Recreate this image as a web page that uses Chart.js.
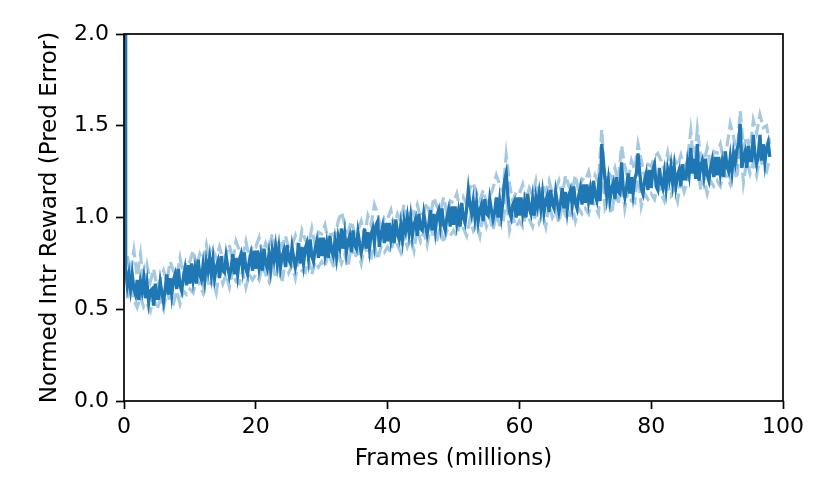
<!DOCTYPE html>
<html>
<head>
<meta charset="utf-8">
<script src="https://cdn.jsdelivr.net/npm/chart.js@4.4.1/dist/chart.umd.min.js"></script>
<style>
  html, body { margin: 0; padding: 0; background: #fff; }
  #wrap { width: 830px; height: 498px; }
</style>
</head>
<body>
<div id="wrap"><canvas id="chart" width="830" height="498"></canvas></div>
<script>
// mean curve, one point every 0.25 million frames (0.25 .. 98)
const meanReward = [
  0.72, 0.63, 0.69, 0.61, 0.69, 0.61, 0.58, 0.66,
  0.55, 0.65, 0.60, 0.67, 0.56, 0.64, 0.54, 0.60,
  0.61, 0.52, 0.64, 0.56, 0.56, 0.65, 0.59, 0.54,
  0.61, 0.69, 0.58, 0.67, 0.58, 0.66, 0.69, 0.61,
  0.72, 0.63, 0.60, 0.67, 0.72, 0.63, 0.74, 0.64,
  0.75, 0.66, 0.72, 0.64, 0.77, 0.69, 0.66, 0.74,
  0.66, 0.76, 0.71, 0.78, 0.69, 0.77, 0.67, 0.73,
  0.76, 0.67, 0.79, 0.71, 0.70, 0.79, 0.73, 0.68,
  0.72, 0.80, 0.69, 0.78, 0.69, 0.77, 0.80, 0.72,
  0.81, 0.72, 0.69, 0.76, 0.80, 0.71, 0.82, 0.72,
  0.82, 0.73, 0.79, 0.71, 0.83, 0.75, 0.72, 0.80,
  0.72, 0.82, 0.77, 0.84, 0.75, 0.83, 0.73, 0.79,
  0.82, 0.73, 0.85, 0.77, 0.75, 0.84, 0.78, 0.73,
  0.78, 0.86, 0.75, 0.84, 0.75, 0.83, 0.86, 0.78,
  0.88, 0.79, 0.76, 0.83, 0.87, 0.78, 0.89, 0.79,
  0.89, 0.80, 0.86, 0.78, 0.90, 0.82, 0.79, 0.87,
  0.79, 0.89, 0.84, 0.94, 0.83, 0.91, 0.81, 0.87,
  0.90, 0.81, 0.93, 0.85, 0.83, 0.92, 0.86, 0.81,
  0.86, 0.94, 0.83, 0.92, 0.83, 0.91, 0.94, 0.86,
  0.96, 0.98, 0.84, 0.91, 0.95, 0.86, 0.97, 0.87,
  0.97, 0.88, 0.94, 0.86, 0.99, 0.91, 0.88, 0.96,
  0.88, 0.98, 0.93, 1.00, 0.92, 1.00, 0.90, 0.96,
  0.99, 0.90, 1.02, 0.94, 0.93, 1.02, 0.96, 0.91,
  0.96, 1.04, 0.93, 1.02, 0.93, 1.01, 1.04, 0.96,
  1.05, 0.96, 0.93, 1.00, 1.04, 0.95, 1.06, 0.96,
  1.06, 0.97, 1.03, 0.95, 1.08, 1.00, 0.97, 1.05,
  1.15, 1.07, 1.02, 1.09, 1.00, 1.08, 0.98, 1.04,
  1.07, 0.98, 1.10, 1.02, 1.01, 1.10, 1.04, 0.99,
  1.03, 1.11, 1.00, 1.09, 1.01, 1.09, 1.20, 1.24,
  1.12, 1.03, 1.00, 1.07, 1.09, 1.00, 1.11, 1.01,
  1.11, 1.02, 1.08, 1.00, 1.13, 1.05, 1.02, 1.10,
  1.01, 1.11, 1.06, 1.13, 1.05, 1.13, 1.03, 1.09,
  1.12, 1.03, 1.15, 1.07, 1.05, 1.14, 1.08, 1.03,
  1.08, 1.16, 1.05, 1.14, 1.04, 1.12, 1.15, 1.07,
  1.17, 1.08, 1.05, 1.12, 1.16, 1.07, 1.18, 1.08,
  1.18, 1.09, 1.15, 1.07, 1.20, 1.12, 1.09, 1.17,
  1.09, 1.40, 1.30, 1.21, 1.12, 1.20, 1.10, 1.16,
  1.19, 1.10, 1.22, 1.14, 1.13, 1.30, 1.16, 1.11,
  1.16, 1.24, 1.13, 1.22, 1.13, 1.21, 1.24, 1.35,
  1.25, 1.16, 1.13, 1.20, 1.24, 1.15, 1.26, 1.16,
  1.26, 1.29, 1.17, 1.15, 1.27, 1.19, 1.16, 1.24,
  1.16, 1.26, 1.21, 1.28, 1.19, 1.27, 1.17, 1.23,
  1.26, 1.17, 1.29, 1.21, 1.21, 1.30, 1.24, 1.38,
  1.24, 1.32, 1.21, 1.40, 1.20, 1.28, 1.31, 1.23,
  1.32, 1.23, 1.20, 1.27, 1.31, 1.22, 1.33, 1.23,
  1.33, 1.24, 1.30, 1.22, 1.36, 1.28, 1.25, 1.33,
  1.25, 1.35, 1.30, 1.37, 1.40, 1.51, 1.27, 1.33,
  1.36, 1.27, 1.39, 1.31, 1.31, 1.45, 1.34, 1.29,
  1.34, 1.45, 1.31, 1.40, 1.30, 1.38, 1.41, 1.33
];
// two individual runs, one point every 0.5 million frames (0.5 .. 98)
const runHigh = [
  0.79, 0.70, 0.82, 0.68, 0.80, 0.63, 0.74, 0.65, 0.72, 0.62,
  0.66, 0.71, 0.65, 0.76, 0.71, 0.68, 0.78, 0.69, 0.77, 0.76,
  0.82, 0.73, 0.80, 0.76, 0.85, 0.74, 0.82, 0.78, 0.84, 0.77,
  0.80, 0.85, 0.76, 0.87, 0.82, 0.79, 0.87, 0.78, 0.85, 0.84,
  0.89, 0.80, 0.86, 0.82, 0.91, 0.80, 0.88, 0.84, 0.90, 0.83,
  0.85, 0.90, 0.82, 0.93, 0.88, 0.85, 0.94, 0.85, 0.92, 0.91,
  0.96, 0.87, 0.93, 0.89, 0.98, 1.03, 0.96, 0.92, 0.98, 0.91,
  0.93, 0.98, 0.90, 1.01, 0.96, 1.07, 1.02, 0.93, 1.00, 0.99,
  1.04, 0.95, 1.02, 0.98, 1.07, 0.96, 1.05, 1.01, 1.07, 1.00,
  1.03, 1.08, 1.00, 1.11, 1.06, 1.03, 1.11, 1.02, 1.09, 1.08,
  1.13, 1.04, 1.11, 1.07, 1.16, 1.19, 1.13, 1.09, 1.15, 1.08,
  1.11, 1.16, 1.23, 1.18, 1.14, 1.34, 1.18, 1.09, 1.14, 1.13,
  1.18, 1.09, 1.16, 1.12, 1.20, 1.09, 1.18, 1.14, 1.20, 1.13,
  1.15, 1.20, 1.12, 1.23, 1.17, 1.14, 1.23, 1.14, 1.21, 1.20,
  1.25, 1.16, 1.23, 1.19, 1.48, 1.17, 1.25, 1.21, 1.27, 1.20,
  1.39, 1.28, 1.20, 1.31, 1.26, 1.40, 1.31, 1.22, 1.29, 1.28,
  1.33, 1.35, 1.31, 1.26, 1.35, 1.24, 1.32, 1.28, 1.34, 1.27,
  1.31, 1.47, 1.28, 1.48, 1.33, 1.30, 1.38, 1.29, 1.36, 1.35,
  1.40, 1.31, 1.39, 1.51, 1.44, 1.33, 1.58, 1.38, 1.44, 1.37,
  1.53, 1.46, 1.56, 1.49, 1.50, 1.40
];
const runLow = [
  0.56, 0.64, 0.55, 0.51, 0.57, 0.51, 0.53, 0.49, 0.56, 0.50,
  0.55, 0.50, 0.60, 0.54, 0.53, 0.60, 0.53, 0.60, 0.58, 0.61,
  0.59, 0.67, 0.63, 0.59, 0.68, 0.62, 0.66, 0.59, 0.71, 0.64,
  0.69, 0.62, 0.71, 0.65, 0.64, 0.71, 0.62, 0.69, 0.66, 0.69,
  0.66, 0.74, 0.69, 0.65, 0.74, 0.68, 0.72, 0.65, 0.77, 0.70,
  0.74, 0.67, 0.77, 0.71, 0.70, 0.77, 0.69, 0.76, 0.73, 0.76,
  0.73, 0.81, 0.76, 0.72, 0.81, 0.75, 0.80, 0.73, 0.85, 0.78,
  0.82, 0.75, 0.85, 0.79, 0.78, 0.85, 0.77, 0.84, 0.81, 0.84,
  0.81, 0.89, 0.85, 0.81, 0.90, 0.84, 0.89, 0.82, 0.94, 0.87,
  0.92, 0.85, 0.95, 0.89, 0.88, 0.95, 0.86, 0.93, 0.90, 0.93,
  0.90, 0.98, 0.94, 0.90, 0.99, 0.93, 0.97, 0.90, 1.02, 0.95,
  1.00, 0.93, 1.02, 0.96, 0.96, 1.12, 0.93, 1.00, 0.95, 0.98,
  0.95, 1.03, 0.99, 0.95, 1.03, 0.97, 1.02, 0.95, 1.07, 1.00,
  1.04, 0.97, 1.07, 1.01, 0.99, 1.06, 0.98, 1.05, 1.02, 1.05,
  1.02, 1.10, 1.06, 1.02, 1.28, 1.05, 1.09, 1.02, 1.14, 1.07,
  1.22, 1.05, 1.15, 1.09, 1.08, 1.26, 1.06, 1.13, 1.10, 1.13,
  1.10, 1.18, 1.13, 1.09, 1.18, 1.12, 1.16, 1.09, 1.21, 1.14,
  1.20, 1.30, 1.23, 1.32, 1.15, 1.22, 1.13, 1.20, 1.17, 1.20,
  1.17, 1.25, 1.22, 1.18, 1.27, 1.21, 1.42, 1.19, 1.31, 1.24,
  1.30, 1.23, 1.33, 1.27, 1.25, 1.32
];
// very first logged point sits far above the top of the axis
const startFrame = 0.2;
const startReward = 3.4;

const meanFrames = meanReward.map((v, i) => 0.25 * (i + 1));
const runFrames = runHigh.map((v, i) => 0.5 * (i + 1));
const xTicks = [0, 20, 40, 60, 80, 100];
const yTicks = [0.0, 0.5, 1.0, 1.5, 2.0];

const blue = '#1f77b4';
const fontFamily = "'DejaVu Sans', sans-serif";

function toPoints(xs, values) {
  return values.map((v, i) => ({ x: xs[i], y: v }));
}

// matplotlib-like box around the plot area
const frameBox = {
  id: 'frameBox',
  afterDatasetsDraw(chart) {
    const { ctx, chartArea: a } = chart;
    ctx.save();
    ctx.strokeStyle = '#000';
    ctx.lineWidth = 1.7;
    ctx.strokeRect(a.left, a.top, a.right - a.left, a.bottom - a.top);
    ctx.restore();
  }
};

const ctx = document.getElementById('chart').getContext('2d');
new Chart(ctx, {
  type: 'line',
  data: {
    datasets: [
      {
        data: toPoints(runFrames, runHigh),
        borderColor: 'rgba(31,119,180,0.4)',
        borderWidth: 3.2,
        borderDash: [12, 5],
        pointRadius: 0,
        tension: 0
      },
      {
        data: toPoints(runFrames, runLow),
        borderColor: 'rgba(31,119,180,0.4)',
        borderWidth: 3.2,
        borderDash: [12, 5],
        pointRadius: 0,
        tension: 0
      },
      {
        data: [{ x: startFrame, y: startReward }].concat(toPoints(meanFrames, meanReward)),
        borderColor: blue,
        borderWidth: 3.3,
        pointRadius: 0,
        tension: 0
      }
    ]
  },
  options: {
    responsive: false,
    animation: false,
    devicePixelRatio: 1,
    layout: { padding: { left: 0, right: 47, top: 34, bottom: 0 } },
    plugins: { legend: { display: false }, tooltip: { enabled: false } },
    scales: {
      x: {
        type: 'linear',
        min: 0,
        max: 100,
        afterBuildTicks: s => { s.ticks = xTicks.map(v => ({ value: v })); },
        afterFit: s => { s.height = 97; },
        border: { display: false },
        grid: { drawOnChartArea: false, drawTicks: true, tickLength: 8, tickWidth: 1.7, tickColor: '#000' },
        ticks: { color: '#000', padding: 5, maxRotation: 0, font: { family: fontFamily, size: 22 } },
        title: {
          display: true,
          text: 'Frames (millions)',
          color: '#000',
          font: { family: fontFamily, size: 23 },
          padding: { top: 0, bottom: 25 }
        }
      },
      y: {
        type: 'linear',
        min: 0,
        max: 2,
        afterBuildTicks: s => { s.ticks = yTicks.map(v => ({ value: v })); },
        afterFit: s => { s.width = 124; },
        border: { display: false },
        grid: { drawOnChartArea: false, drawTicks: true, tickLength: 8, tickWidth: 1.7, tickColor: '#000' },
        ticks: {
          color: '#000',
          padding: 7,
          font: { family: fontFamily, size: 22 },
          callback: v => v.toFixed(1)
        },
        title: {
          display: true,
          text: 'Normed Intr Reward (Pred Error)',
          color: '#000',
          font: { family: fontFamily, size: 23 },
          padding: { top: 36, bottom: 0 }
        }
      }
    }
  },
  plugins: [frameBox]
});
</script>
</body>
</html>
